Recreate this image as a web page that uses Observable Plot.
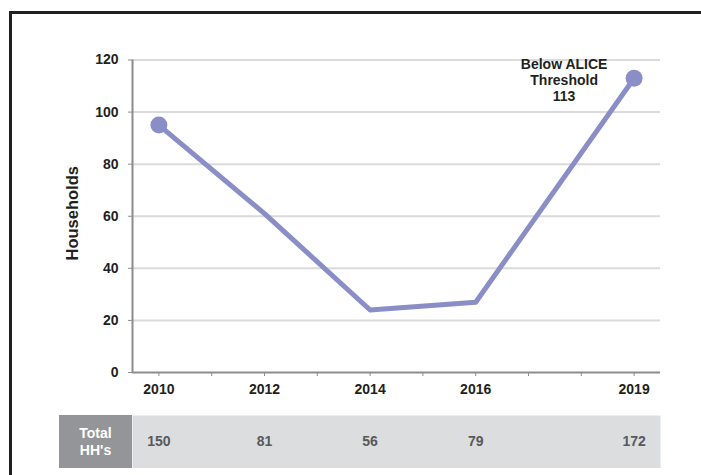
<!DOCTYPE html>
<html>
<head>
<meta charset="utf-8">
<script src="https://cdn.jsdelivr.net/npm/d3@7"></script>
<script src="https://cdn.jsdelivr.net/npm/@observablehq/plot@0.6"></script>
<style>
  html, body { margin: 0; padding: 0; background: #fff; width: 701px; height: 475px; overflow: hidden; }
  body { position: relative; font-family: "Liberation Sans", Arial, sans-serif; }
  #frame { position: absolute; left: 9px; top: 11px; width: 692px; height: 464px;
           border-left: 3px solid #231f20; border-top: 3px solid #231f20; box-sizing: border-box; }
  #main { position: absolute; left: 0; top: 0; width: 701px; height: 400px; overflow: hidden; }
  #table { position: absolute; left: 0; top: 400px; width: 701px; height: 68px; overflow: hidden; }
  #hdr { position: absolute; left: 59px; top: 415px; width: 73px; height: 53px; background: #939598;
         color: #fff; font-weight: bold; font-size: 14px; line-height: 17px; text-align: center;
         display: flex; align-items: center; justify-content: center; }
</style>
</head>
<body>
<div id="frame"></div>
<div id="main"></div>
<div id="table"></div>
<div id="hdr"><span>Total<br>HH's</span></div>
<script>
// Data
const years = [2010, 2012, 2014, 2016, 2019];
const households = [95, 61, 24, 27, 113];
const totals = [150, 81, 56, 79, 172];
const markerYears = [2010, 2019];
const markerValues = [95, 113];
const xTickYears = [2010, 2011, 2012, 2013, 2014, 2015, 2016, 2017, 2018, 2019];
const xTickLabels = [2010, 2012, 2014, 2016, 2019];
const yTicks = [0, 20, 40, 60, 80, 100, 120];
const yLabel = "Households";
const annotation = "Below ALICE\nThreshold\n113";

const series = years.map((y, i) => ({year: y, value: households[i]}));
const markers = markerYears.map((y, i) => ({year: y, value: markerValues[i]}));
const tableRow = years.map((y, i) => ({year: y, total: totals[i]}));

const lineColor = "#8a8ec6";
const axisColor = "#8c8c8c";
const textColor = "#231f20";
const fontStyle = {fontFamily: "'Liberation Sans', Arial, sans-serif", fontSize: "14px", fontWeight: "bold", background: "transparent", overflow: "visible"};

const xOpts = {type: "linear", domain: [2009.5, 2019.5]};

const main = Plot.plot({
  width: 701,
  height: 400,
  marginLeft: 132,
  marginRight: 41,
  marginTop: 59.5,
  marginBottom: 28,
  style: fontStyle,
  x: {...xOpts, axis: null, label: null},
  y: {domain: [0, 120], axis: null, label: null},
  marks: [
    Plot.ruleY(yTicks.filter(d => d > 0), {stroke: "#dadada", strokeWidth: 2}),
    Plot.ruleX([2009.5], {y1: 0, y2: 120, stroke: axisColor, strokeWidth: 2}),
    Plot.ruleY([0], {stroke: axisColor, strokeWidth: 2}),
    Plot.axisY({ticks: yTicks, label: null, tickSize: 4, tickPadding: 10, stroke: axisColor, fill: textColor, fontSize: 14, tickFormat: d => String(d)}),
    Plot.axisX({ticks: xTickYears, label: null, tickSize: 4, tickPadding: 8, stroke: axisColor, fill: textColor, fontSize: 14,
      tickFormat: d => xTickLabels.includes(d) ? String(d) : ""}),
    Plot.text([yLabel], {frameAnchor: "left", textAnchor: "middle", rotate: -90, dx: -60, dy: -3, fill: textColor, fontSize: 16.5, fontWeight: "bold"}),
    Plot.line(series, {x: "year", y: "value", stroke: lineColor, strokeWidth: 5}),
    Plot.dot(markers, {x: "year", y: "value", r: 8.5, fill: lineColor}),
    Plot.text([markers[1]], {x: "year", y: "value", text: () => annotation, dx: -70, dy: 2, lineHeight: 1.15, fill: textColor, fontSize: 14, fontWeight: "bold"})
  ]
});
document.getElementById("main").appendChild(main);

const table = Plot.plot({
  width: 701,
  height: 68,
  marginLeft: 132,
  marginRight: 41,
  marginTop: 15,
  marginBottom: 0,
  style: fontStyle,
  x: {...xOpts, axis: null},
  y: {axis: null},
  marks: [
    Plot.frame({fill: "#dcdddf", stroke: "none"}),
    Plot.text(tableRow, {x: "year", text: d => String(d.total), frameAnchor: "middle", fill: "#58595b", fontSize: 14, fontWeight: "bold"})
  ]
});
document.getElementById("table").appendChild(table);
</script>
</body>
</html>
